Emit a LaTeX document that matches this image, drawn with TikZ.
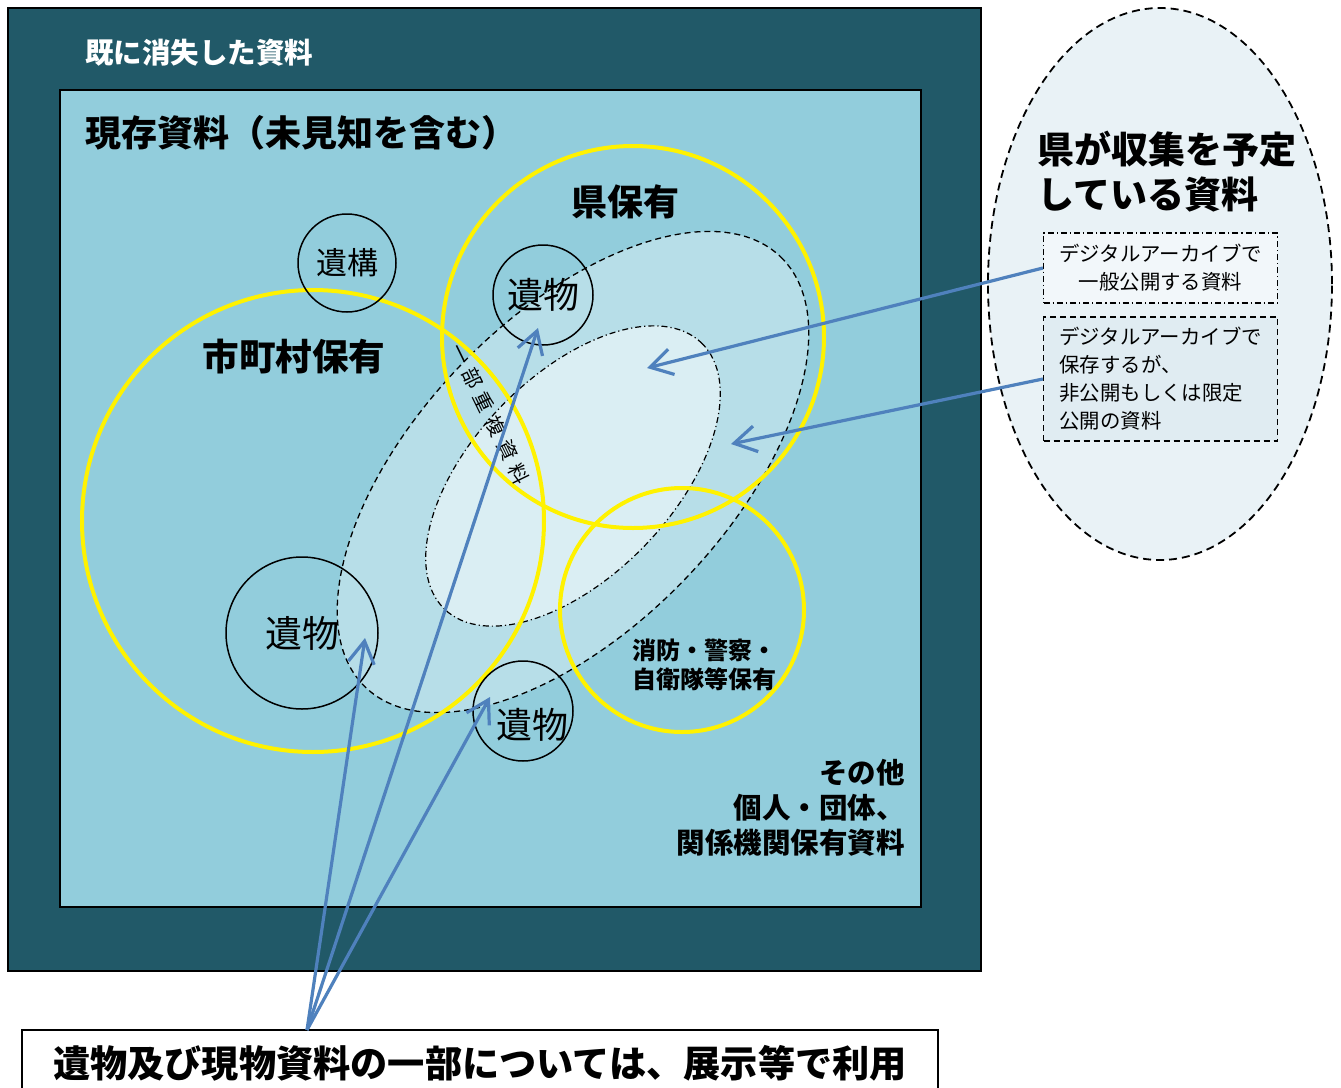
\documentclass[tikz,border=0pt]{standalone}
\usepackage{fontspec}
\setmainfont{Noto Sans CJK JP}
\usetikzlibrary{arrows.meta,shapes.geometric}

\definecolor{lostteal}{HTML}{215968}
\definecolor{extantblue}{HTML}{92CDDC}
\definecolor{dupblue}{HTML}{B7DEE8}
\definecolor{archblue}{HTML}{DAEEF3}
\definecolor{planblue}{HTML}{E9F2F6}
\definecolor{pubblue}{HTML}{F2F7FA}
\definecolor{keepblue}{HTML}{E0ECF2}
\definecolor{arrowblue}{HTML}{4F81BD}

\tikzset{
  holder/.style={draw=yellow, line width=2pt},
  relic/.style={circle, draw, line width=0.75pt, inner sep=0pt},
  pointer/.style={arrowblue, line width=1.6pt, -{Straight Barb[length=11pt,width=13pt]}},
  plainlabel/.style={inner sep=0pt},
  dotdash/.style={dash pattern=on 3pt off 1.5pt on 0.6pt off 1.5pt},
}

\begin{document}
\begin{tikzpicture}[x=0.5pt,y=-0.5pt]
\useasboundingbox (0,0) rectangle (1341,1088);
\clip (0,0) rectangle (1341,1088);
\draw[fill=lostteal, line width=1pt] (8,8) rectangle (981,971);        % lost material
\draw[fill=extantblue, line width=0.75pt] (60,90) rectangle (921,907); % extant material
\node[plainlabel, anchor=west, white, font=\fontsize{14.25}{17}\selectfont\bfseries] (lost) at (85,53) {既に消失した資料};
\node[plainlabel, anchor=west, font=\fontsize{18}{22}\selectfont\bfseries] (extant) at (85,133) {現存資料（未見知を含む）};

% archive ellipses
\draw[fill=dupblue, line width=0.65pt, dash pattern=on 3pt off 2pt, rotate around={46:(573,472)}] (573,472) ellipse [x radius=299, y radius=155];
\draw[fill=archblue, line width=0.6pt, dotdash, rotate around={46:(573,476)}] (573,476) ellipse [x radius=185, y radius=100];

% holders
\draw[holder] (313,521) circle [radius=231];
\draw[holder] (633,337) circle [radius=191];
\draw[holder] (682,610) circle [radius=122];
\node[plainlabel, font=\fontsize{18.3}{22}\selectfont\bfseries] (city) at (294,357) {市町村保有};
\node[plainlabel, font=\fontsize{18}{22}\selectfont\bfseries] (pref) at (625,202) {県保有};
\node[plainlabel, anchor=west, align=left, font=\fontsize{12}{14.5}\selectfont\bfseries] (agency) at (632,665) {消防・警察・\\自衛隊等保有};
\node[plainlabel, anchor=east, align=right, font=\fontsize{14.25}{17.5}\selectfont\bfseries] (others) at (905,808) {その他\\個人・団体、\\関係機関保有資料};

% relics and features
\node[relic, minimum size=49pt, font=\fontsize{15.5}{18}\selectfont] (feature) at (347,263) {遺構};
\node[relic, minimum size=50pt, font=\fontsize{18}{22}\selectfont] (relicA) at (543,295) {遺物};
\node[relic, minimum size=76pt, font=\fontsize{18.5}{22}\selectfont] (relicB) at (302,633) {遺物};
\node[relic, minimum size=50pt] (relicC) at (523,711) {};
\node[plainlabel, font=\fontsize{18}{22}\selectfont] (relicCtext) at (532,725) {遺物};

% overlap label
\node[plainlabel, rotate=-64, font=\fontsize{10}{12}\selectfont\addfontfeature{LetterSpace=33}] (overlap) at (490,414) {一部重複資料};

% planned collection
\node[ellipse, draw, fill=planblue, line width=0.9pt, dash pattern=on 4pt off 2.5pt, minimum width=172pt, minimum height=276pt] (plan) at (1160,284) {};
\node[plainlabel, anchor=west, align=left, font=\fontsize{18.5}{22.5}\selectfont\bfseries] (plantitle) at (1037,172) {県が収集を予定\\している資料};
\node[draw, fill=pubblue, line width=0.6pt, dotdash, text width=101pt, inner xsep=8pt, inner ysep=0pt, minimum height=35pt, align=center, font=\fontsize{10.2}{14}\selectfont] (public) at (1160.5,268) {デジタルアーカイブで\\一般公開する資料};
\node[draw, fill=keepblue, line width=0.6pt, dash pattern=on 3pt off 2pt, text width=101pt, inner xsep=8pt, inner ysep=0pt, minimum height=62pt, align=left, font=\fontsize{10.2}{14}\selectfont] (closed) at (1160.5,379) {デジタルアーカイブで\\保存するが、\\非公開もしくは限定\\公開の資料};

% usage box
\node[draw, fill=white, line width=0.75pt, minimum width=458pt, minimum height=33pt, inner sep=0pt, font=\fontsize{18.6}{22}\selectfont\bfseries] (usage) at (480,1063) {遺物及び現物資料の一部については、展示等で利用};

% arrows
\coordinate (publicspot) at (647,368);
\coordinate (closedspot) at (731,444);
\coordinate (usefoot) at (307,1030);
\coordinate (tipA) at (538,328);
\coordinate (tipB) at (365,638);
\coordinate (tipC) at (490,697);
\draw[pointer] (public.west) -- (publicspot);
\draw[pointer] (closed.west) -- (closedspot);
\draw[pointer] (usefoot) -- (tipA);
\draw[pointer] (usefoot) -- (tipB);
\draw[pointer] (usefoot) -- (tipC);
\end{tikzpicture}
\end{document}
